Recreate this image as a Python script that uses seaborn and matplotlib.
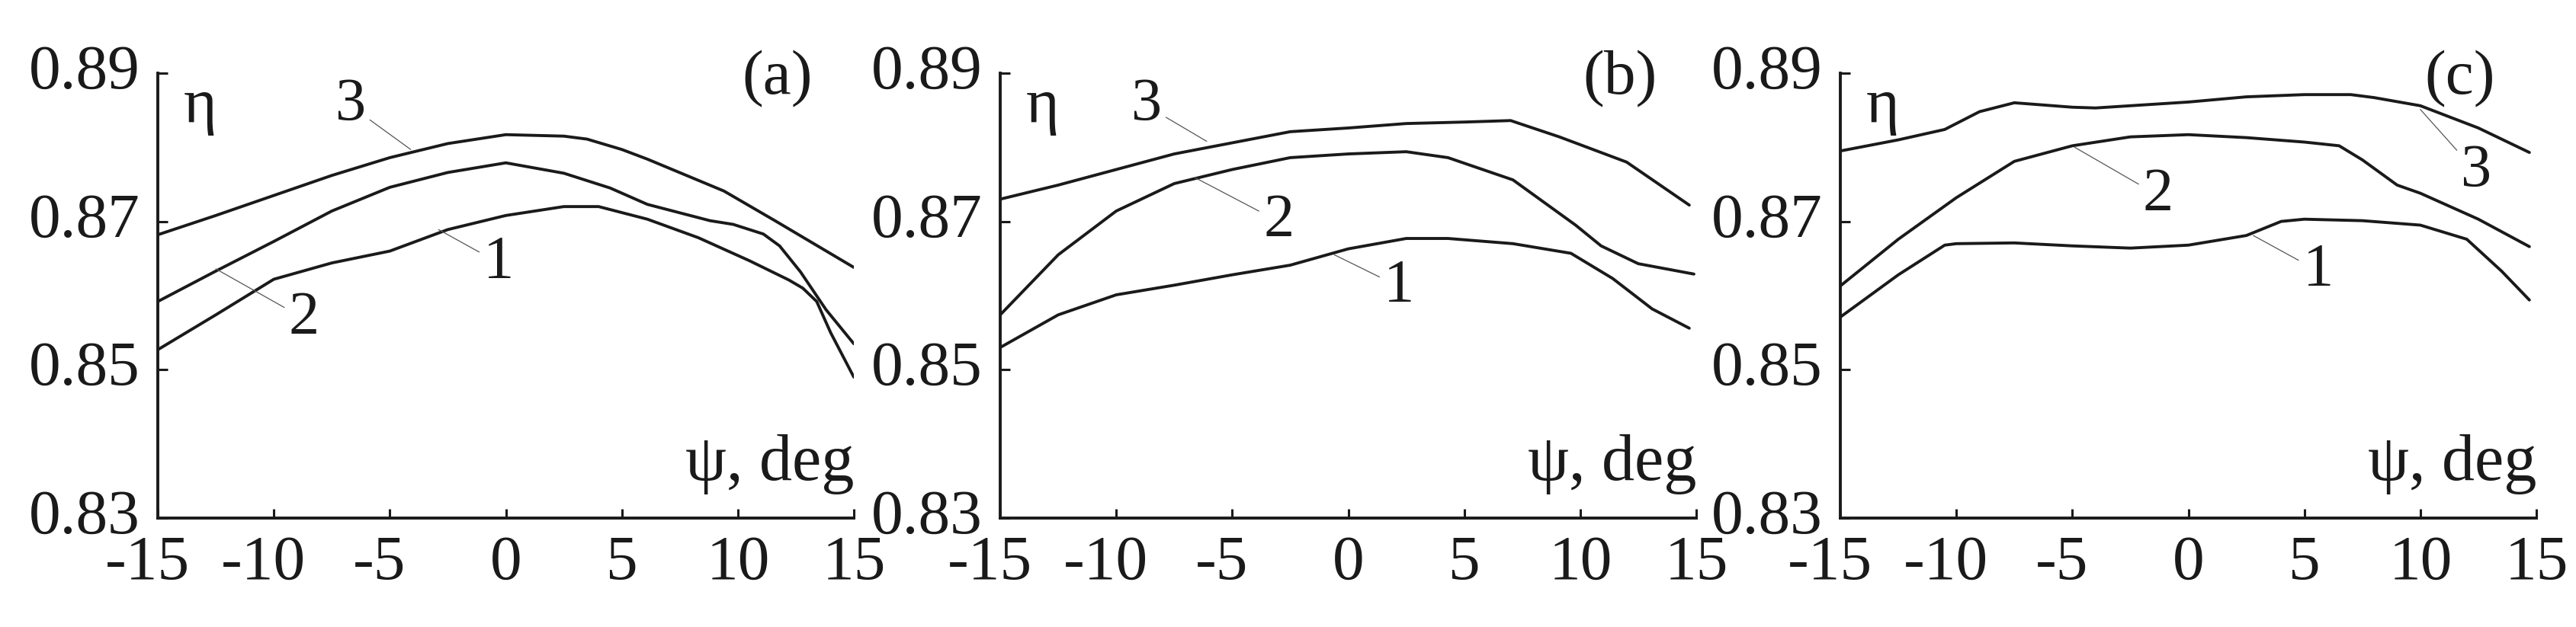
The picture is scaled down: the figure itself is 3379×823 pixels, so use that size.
import matplotlib
matplotlib.use('Agg')
import matplotlib.pyplot as plt
import matplotlib.transforms as mtransforms
import seaborn as sns

sns.set_style('ticks')
plt.rcParams['font.family'] = ['Liberation Serif', 'DejaVu Serif']
plt.rcParams['axes.unicode_minus'] = False

# panel (a)
a1_x = [-15, -12.5, -10, -7.5, -5, -2.5, 0, 2.5, 4, 6.1, 8.3, 10.5, 12.2, 12.8, 13.4, 14, 15]
a1_y = [0.8527, 0.8574, 0.8622, 0.8644, 0.8660, 0.8689, 0.8708, 0.8720, 0.8720, 0.8703, 0.8678,
        0.8647, 0.8621, 0.8610, 0.8592, 0.8550, 0.8490]
a2_x = [-15, -12.5, -10, -7.5, -5, -2.5, 0, 2.5, 4.5, 6.1, 8.8, 9.8, 11.1, 11.8, 12.7, 13.8, 15]
a2_y = [0.8592, 0.8633, 0.8673, 0.8714, 0.8746, 0.8766, 0.8779, 0.8765, 0.8745, 0.8723, 0.8701,
        0.8696, 0.8683, 0.8667, 0.8632, 0.8581, 0.8535]
a3_x = [-15, -12.5, -10, -7.5, -5, -2.5, 0, 2.5, 3.5, 5, 6.1, 9.4, 11.6, 15]
a3_y = [0.8682, 0.8708, 0.8735, 0.8762, 0.8786, 0.8805, 0.8817, 0.8815, 0.8811, 0.8797, 0.8784,
        0.8741, 0.8701, 0.8638]

# panel (b)
b1_x = [-15, -12.5, -10, -7.5, -5, -2.5, 0, 2.5, 4.3, 7.1, 9.6, 11.4, 13.1, 14.7]
b1_y = [0.8530, 0.8574, 0.8601, 0.8614, 0.8628, 0.8641, 0.8663, 0.8677, 0.8677, 0.8670, 0.8657,
        0.8623, 0.8582, 0.8556]
b2_x = [-15, -12.5, -10, -7.5, -5, -2.5, 0, 2.5, 4.3, 7.1, 9.8, 10.9, 12.5, 14.9]
b2_y = [0.8574, 0.8655, 0.8714, 0.8751, 0.8770, 0.8786, 0.8791, 0.8794, 0.8786, 0.8756, 0.8695,
        0.8667, 0.8643, 0.8629]
b3_x = [-15, -12.5, -10, -7.5, -5, -2.5, 0, 2.5, 5, 7, 9.1, 12, 14.7]
b3_y = [0.8730, 0.8749, 0.8770, 0.8791, 0.8806, 0.8821, 0.8826, 0.8832, 0.8834, 0.8836, 0.8814,
        0.8780, 0.8722]

# panel (c)
c1_x = [-15, -12.5, -10.5, -10, -7.5, -5, -2.5, 0, 2.5, 4, 5, 7.5, 10, 12, 13.5, 14.7]
c1_y = [0.8571, 0.8628, 0.8668, 0.8670, 0.8671, 0.8667, 0.8664, 0.8668, 0.8681, 0.8700, 0.8703,
        0.8701, 0.8695, 0.8676, 0.8633, 0.8594]
c2_x = [-15, -12.5, -10, -7.5, -5, -2.5, 0, 2.5, 5, 6.5, 7.5, 9, 10, 12.5, 14.7]
c2_y = [0.8613, 0.8676, 0.8732, 0.8781, 0.8802, 0.8814, 0.8817, 0.8813, 0.8807, 0.8802, 0.8783,
        0.8749, 0.8738, 0.8703, 0.8666]
c3_x = [-15, -12.5, -10.5, -9, -7.5, -5, -4, -2.5, 0, 2.5, 5, 7, 8, 10, 12.5, 14.7]
c3_y = [0.8795, 0.8810, 0.8824, 0.8848, 0.8860, 0.8854, 0.8853, 0.8856, 0.8861, 0.8868, 0.8871,
        0.8871, 0.8867, 0.8856, 0.8826, 0.8793]

x_ticks = [-15, -10, -5, 0, 5, 10, 15]
x_labels = ['-15', '-10', '-5', '0', '5', '10', '15']
y_ticks = [0.83, 0.85, 0.87, 0.89]
y_labels = ['0.83', '0.85', '0.87', '0.89']

panels = [
    ('(a)', [(a1_x, a1_y), (a2_x, a2_y), (a3_x, a3_y)],
     [('1', (-2.9, 0.8689), (-0.3, 0.8644)),
      ('2', (-12.5, 0.8636), (-8.7, 0.8569)),
      ('3', (-4.1, 0.8797), (-6.7, 0.8856))]),
    ('(b)', [(b1_x, b1_y), (b2_x, b2_y), (b3_x, b3_y)],
     [('1', (-0.6, 0.8655), (2.2, 0.8612)),
      ('2', (-6.6, 0.8759), (-3.0, 0.8700)),
      ('3', (-6.1, 0.8808), (-8.7, 0.8856))]),
    ('(c)', [(c1_x, c1_y), (c2_x, c2_y), (c3_x, c3_y)],
     [('1', (2.8, 0.8681), (5.6, 0.8633)),
      ('2', (-4.9, 0.8800), (-1.3, 0.8735)),
      ('3', (10.0, 0.8851), (12.4, 0.8767))]),
]

lefts = [207, 1312, 2414]
fig = plt.figure(figsize=(33.8, 8.23), dpi=100)
fs = 60
ink = '#1a1a1a'

for left, (tag, curves, notes) in zip(lefts, panels):
    ax = fig.add_axes([left / 3380, 0.1738, 913 / 3380, 0.7096])
    for xs, ys in curves:
        sns.lineplot(x=xs, y=ys, ax=ax, color=ink, linewidth=2.8, sort=False)
    for num, xy, xyt in notes:
        ax.annotate(num, xy=xy, xytext=xyt, ha='center', va='center', fontsize=fs - 2,
                    color=ink,
                    arrowprops=dict(arrowstyle='-', color='#555555', lw=0.9,
                                    shrinkA=2, shrinkB=0))
    ax.set_xlim(-15, 15)
    ax.set_ylim(0.83, 0.89)
    ax.set_xticks(x_ticks)
    ax.set_xticklabels(x_labels)
    ax.set_yticks(y_ticks)
    ax.set_yticklabels(y_labels)
    ax.tick_params(direction='in', length=9, width=2.2, labelsize=fs, colors=ink)
    ax.tick_params(axis='x', pad=16)
    ax.tick_params(axis='y', pad=17)
    # digits centred on the tick, the minus sign hangs to the left
    shift = mtransforms.ScaledTranslation(-10 / 72, 0, fig.dpi_scale_trans)
    for lab in ax.get_xticklabels():
        if lab.get_text().startswith('-'):
            lab.set_transform(lab.get_transform() + shift)
    for lab in ax.get_yticklabels():
        lab.set_va('center')
    for s in ['top', 'right']:
        ax.spines[s].set_visible(False)
    for s in ['left', 'bottom']:
        ax.spines[s].set_linewidth(2.8)
        ax.spines[s].set_color(ink)
    ax.text(-13.9, 0.8893, 'η', fontsize=fs, ha='left', va='top', color=ink)
    ax.text(11.7, 0.8892, tag, fontsize=fs, ha='center', va='center', color=ink)
    ax.text(15, 0.8351, 'ψ, deg', fontsize=fs + 2, ha='right', va='baseline', color=ink)

plt.savefig('out.png', dpi=100)
